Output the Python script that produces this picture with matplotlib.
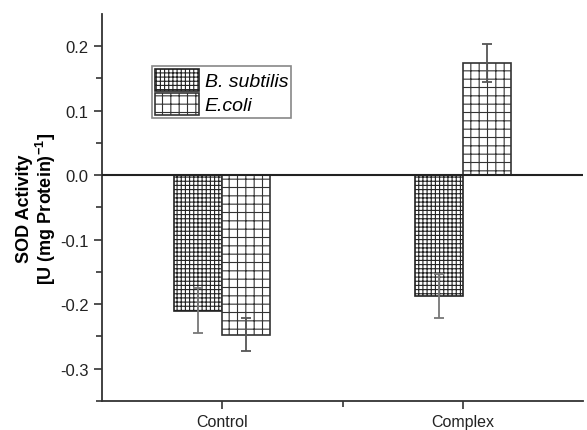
import matplotlib
matplotlib.use("Agg")
import matplotlib.pyplot as plt
import numpy as np

plt.rcParams['font.family'] = ['Liberation Sans', 'DejaVu Sans']
plt.rcParams['hatch.linewidth'] = 0.8
plt.rcParams['hatch.color'] = '#222222'

categories = ["Control", "Complex"]
series_names = ["B. subtilis", "E.coli"]
bsubtilis = [-0.210, -0.187]
bsubtilis_err = [0.035, 0.034]
ecoli = [-0.247, 0.174]
ecoli_err = [0.025, 0.030]
yticks = [-0.3, -0.2, -0.1, 0.0, 0.1, 0.2]

fig = plt.figure(figsize=(5.87, 4.31), dpi=100)
ax = fig.add_axes([0.1738, 0.0673, 0.8194, 0.8979])

x = np.arange(1, len(categories) + 1)
w = 0.2
ax.bar(x - w / 2, bsubtilis, w, facecolor='white', edgecolor='#222222',
       hatch='++++', linewidth=1.2, label=series_names[0], zorder=2)
ax.bar(x + w / 2, ecoli, w, facecolor='white', edgecolor='#333333',
       hatch='++', linewidth=1.2, label=series_names[1], zorder=2)
ax.errorbar(x - w / 2, bsubtilis, yerr=bsubtilis_err, fmt='none',
            ecolor='#777777', elinewidth=1.3, capsize=3.5, capthick=1.3, zorder=3)
ax.errorbar(x + w / 2, ecoli, yerr=ecoli_err, fmt='none',
            ecolor='#555555', elinewidth=1.3, capsize=3.5, capthick=1.3, zorder=3)

ax.axhline(0, color='#222222', linewidth=1.5, zorder=4)

ax.set_xlim(0.5, 2.5)
ax.set_ylim(-0.35, 0.25)
ax.set_xticks(x)
ax.set_xticklabels(categories, fontsize=11.5)
ax.set_xticks([1.5], minor=True)
ax.set_yticks(yticks)
ax.set_yticklabels([f"{v:.1f}" for v in yticks], fontsize=12)
ax.set_yticks(np.arange(-0.35, 0.25, 0.1), minor=True)

for s in ['top', 'right']:
    ax.spines[s].set_visible(False)
for s in ['left', 'bottom']:
    ax.spines[s].set_linewidth(1.3)
    ax.spines[s].set_color('#333333')
ax.tick_params(axis='both', which='major', direction='out', length=6, width=1.2,
               color='#333333', labelcolor='#222222')
ax.tick_params(axis='both', which='minor', direction='out', length=4, width=1.2,
               color='#333333')

ax.set_ylabel("SOD Activity\n[U (mg Protein)$^{\\mathregular{-1}}$]",
              fontsize=13, fontweight='bold', linespacing=1.05)
ax.yaxis.set_label_coords(-0.092, 0.5)

leg = ax.legend(loc='upper left', bbox_to_anchor=(0.104, 0.866),
                prop={'style': 'italic', 'size': 14}, fancybox=False,
                edgecolor='#888888', framealpha=1, handlelength=2.25,
                handleheight=1.36, handletextpad=0.3, borderpad=0.15,
                labelspacing=0.1, borderaxespad=0)
leg.get_frame().set_linewidth(1.2)

fig.savefig("out.png", dpi=100)
